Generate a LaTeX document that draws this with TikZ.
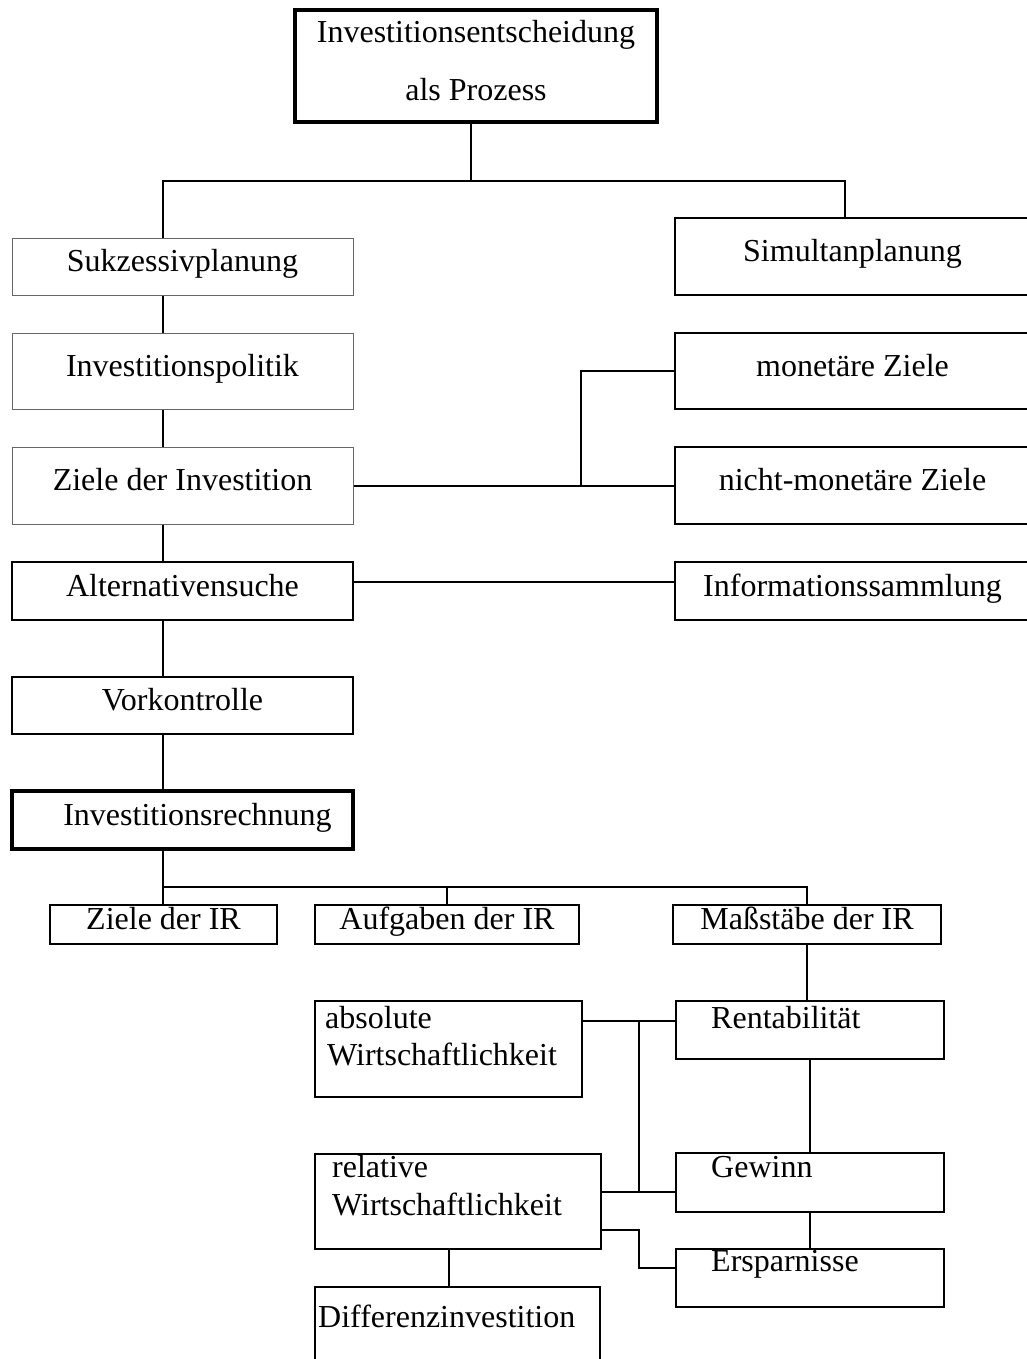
\documentclass[tikz,border=0pt]{standalone}
\usepackage{fontspec}
\setmainfont{Liberation Serif}
\tikzset{
  box/.style={draw, rectangle, inner sep=0pt, text height=18pt, text depth=8pt},
  thinbox/.style={box, draw=black!60, line width=1pt},
  stepbox/.style={box, line width=1.8pt},
  mainbox/.style={box, line width=4.5pt},
  sidebox/.style={box, line width=2pt, minimum width=355pt},
  irbox/.style={box, line width=2pt},
  lbl/.style={anchor=base west, inner sep=0pt},
  conn/.style={line width=2pt}
}
\begin{document}
\begin{tikzpicture}[x=1pt,y=-1pt,font=\fontsize{32}{38}\selectfont]
\useasboundingbox (0,0) rectangle (1026,1359);

% Kopf
\node[draw, line width=4.5pt, align=center, inner sep=0pt, text depth=12pt, minimum width=362pt, minimum height=112pt] (top) at (476,66) {Investitionsentscheidung\\[20pt]als Prozess};

% linke Spalte
\node[thinbox, minimum width=341pt, minimum height=57pt] (sukz) at (182.5,266.5) {Sukzessivplanung};
\node[thinbox, minimum width=341pt, minimum height=76pt] (pol) at (182.5,371) {Investitionspolitik};
\node[thinbox, minimum width=341pt, minimum height=77pt] (zinv) at (182.5,485.5) {Ziele der Investition};
\node[stepbox, minimum width=341pt, minimum height=58pt] (alt) at (182.5,591) {Alternativensuche};
\node[stepbox, minimum width=341pt, minimum height=57pt] (vork) at (182.5,705.5) {Vorkontrolle};
\node[mainbox, minimum width=341pt, minimum height=58pt] (irech) at (182.5,820) {\hspace*{30pt}Investitionsrechnung};

% rechte Spalte
\node[sidebox, minimum height=77pt] (sim) at (852.5,256.5) {Simultanplanung};
\node[sidebox, minimum height=76pt] (mon) at (852.5,371) {monetäre Ziele};
\node[sidebox, minimum height=77pt] (nmon) at (852.5,485.5) {nicht-monetäre Ziele};
\node[sidebox, minimum height=58pt] (info) at (852.5,591) {Informationssammlung};

% Investitionsrechnung
\node[irbox, minimum width=227pt, minimum height=39pt] (zir) at (163.5,924.5) {Ziele der IR};
\node[irbox, minimum width=264pt, minimum height=39pt] (aufg) at (447,924.5) {Aufgaben der IR};
\node[irbox, minimum width=268pt, minimum height=39pt] (mass) at (807,924.5) {Maßstäbe der IR};

\node[irbox, minimum width=268pt, minimum height=58pt,
  label={[lbl,xshift=36pt,yshift=-28pt]north west:Rentabilität}] (rent) at (810,1030) {};
\node[irbox, minimum width=268pt, minimum height=59pt,
  label={[lbl,xshift=36pt,yshift=-25pt]north west:Gewinn}] (gew) at (810,1182.5) {};
\node[irbox, minimum width=268pt, minimum height=58pt,
  label={[lbl,xshift=36pt,yshift=-23pt]north west:Ersparnisse}] (ersp) at (810,1278) {};
\node[irbox, minimum width=267pt, minimum height=96pt,
  label={[lbl,xshift=11pt,yshift=-28pt]north west:absolute},
  label={[lbl,xshift=13pt,yshift=-65pt]north west:Wirtschaftlichkeit}] (abs) at (448.5,1049) {};
\node[irbox, minimum width=286pt, minimum height=95pt,
  label={[lbl,xshift=18pt,yshift=-24pt]north west:relative},
  label={[lbl,xshift=18pt,yshift=-62pt]north west:Wirtschaftlichkeit}] (rel) at (458,1201.5) {};
\node[irbox, minimum width=285pt, minimum height=93pt,
  label={[lbl,xshift=4pt,yshift=-41pt]north west:Differenzinvestition}] (diff) at (457.5,1333.5) {};

% Verbindungen
\coordinate (lx) at (163,181);
\coordinate (rx) at (845,181);
\draw[conn] ([xshift=-5pt]top.south) -- ([xshift=-5pt]top.south |- lx);
\draw[conn] (sukz.north -| lx) -- (lx) -- (rx) -- (sim.north -| rx);
\foreach \a/\b in {sukz/pol,pol/zinv,zinv/alt,alt/vork,vork/irech}
  \draw[conn] (\a.south -| lx) -- (\b.north -| lx);
\coordinate (zx) at (581,485.5);
\draw[conn] (zinv.east) -- (nmon.west);
\draw[conn] (mon.west) -| (zx);
\draw[conn] ([yshift=9pt]alt.east) -- ([yshift=9pt]info.west);

\coordinate (ix) at (163,887);
\coordinate (mx) at (807,887);
\draw[conn] (irech.south -| ix) -- (ix) -- (mx) -- (mass.north);
\draw[conn] (ix) -- (zir.north -| ix);
\draw[conn] (aufg.north) -- (aufg.north |- ix);
\draw[conn] (mass.south) -- (mass.south |- rent.north);
\draw[conn] (rent.south) -- (gew.north);
\draw[conn] (gew.south) -- (ersp.north);

\coordinate (wa) at (639,1021);
\coordinate (wb) at (639,1192);
\coordinate (ea) at (639,1230);
\coordinate (eb) at (639,1268);
\draw[conn] (abs.east |- wa) -- (rent.west |- wa);
\draw[conn] (wa) -- (wb);
\draw[conn] (rel.east |- wb) -- (gew.west |- wb);
\draw[conn] (rel.east |- ea) -- (ea) -- (eb) -- (ersp.west |- eb);
\draw[conn] (rel.south -| abs.south) -- (diff.north -| abs.south);
\end{tikzpicture}
\end{document}
